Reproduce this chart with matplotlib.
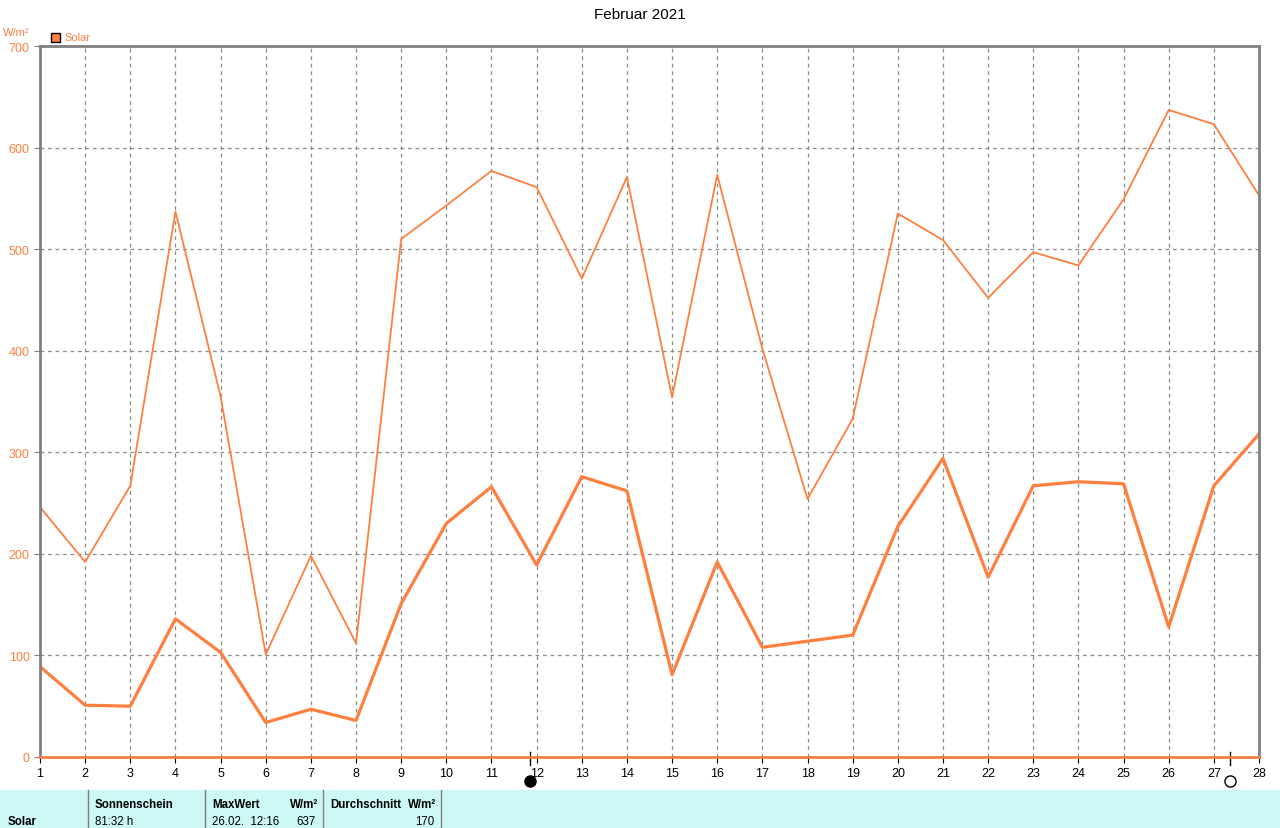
import numpy as np
import matplotlib.pyplot as plt
from matplotlib.patches import Rectangle

plt.rcParams["font.family"] = ["Liberation Sans", "DejaVu Sans"]

days = list(range(1, 29))
solar_max = [246, 192, 267, 537, 355, 101, 198, 112, 510, 543, 577, 561, 471, 571,
             354, 573, 402, 254, 333, 535, 509, 452, 497, 484, 549, 637, 623, 553]
solar_avg = [89, 51, 50, 136, 103, 34, 47, 36, 151, 230, 266, 189, 276, 262,
             81, 192, 108, 114, 120, 227, 294, 177, 267, 271, 269, 128, 267, 318]
new_moon = 11.85
full_moon = 27.35

ORANGE = "#FF7F3F"
GRAY = "#808080"

W, H = 1280, 829
fig = plt.figure(figsize=(W / 100, H / 100), dpi=100)
ax = fig.add_axes([40 / W, 1 - 758 / H, 1219 / W, 711 / H])

ax.plot(days, solar_max, color=ORANGE, lw=1.3)
ax.plot(days, solar_avg, color=ORANGE, lw=2.3)

ax.set_xlim(1, 28)
ax.set_ylim(0, 700)
ax.set_xticks(days)
ax.set_yticks(range(0, 701, 100))
ax.grid(True, color="#8a8a8a", ls=(0, (3, 3)), lw=0.9)
for s in ax.spines.values():
    s.set_color(GRAY)
    s.set_linewidth(2)
ax.spines["bottom"].set_color(ORANGE)
ax.tick_params(axis="x", colors="black", labelsize=9, length=4, color="black")
ax.tick_params(axis="y", colors=ORANGE, labelsize=9, length=4, color=GRAY)

# moon phases
for xm, filled in [(new_moon, True), (full_moon, False)]:
    ax.plot([xm, xm], [-8, 5], color="black", lw=1, clip_on=False)
    ax.plot(xm, -24, marker="o", ms=8,
            mfc="black" if filled else "white", mec="black", mew=1, clip_on=False)

fig.text(0.5, 1 - 15 / H, "Februar 2021", ha="center", va="center", fontsize=11)
fig.text(3 / W, 1 - 33 / H, "W/m²", color=ORANGE, fontsize=8, va="center")
fig.patches.append(Rectangle((51 / W, 1 - 43 / H), 9 / W, 9 / H, transform=fig.transFigure,
                             facecolor=ORANGE, edgecolor="black", lw=1))
fig.text(64 / W, 1 - 38 / H, "Solar", color=ORANGE, fontsize=8, va="center")

# summary table
fig.patches.append(Rectangle((0, 0), 1, 38 / H, transform=fig.transFigure,
                             facecolor="#CCF8F6", edgecolor="none"))
for xs in [88, 205, 323, 441]:
    fig.add_artist(plt.Line2D([xs / W, xs / W], [0, 38 / H], color=GRAY, lw=1))
fs = 8.3
y1 = 1 - 805 / H
y2 = 1 - 822 / H
fig.text(8 / W, y2, "Solar", fontsize=fs, weight="bold", va="center")
fig.text(95 / W, y1, "Sonnenschein", fontsize=fs, weight="bold", va="center")
fig.text(95 / W, y2, "81:32 h", fontsize=fs, va="center")
fig.text(212 / W, y1, "MaxWert", fontsize=fs, weight="bold", va="center")
fig.text(318 / W, y1, "W/m²", fontsize=fs, weight="bold", va="center", ha="right")
fig.text(212 / W, y2, "26.02.  12:16", fontsize=fs, va="center")
fig.text(316 / W, y2, "637", fontsize=fs, va="center", ha="right")
fig.text(330 / W, y1, "Durchschnitt", fontsize=fs, weight="bold", va="center")
fig.text(436 / W, y1, "W/m²", fontsize=fs, weight="bold", va="center", ha="right")
fig.text(434 / W, y2, "170", fontsize=fs, va="center", ha="right")

fig.savefig("out.png", dpi=100)
